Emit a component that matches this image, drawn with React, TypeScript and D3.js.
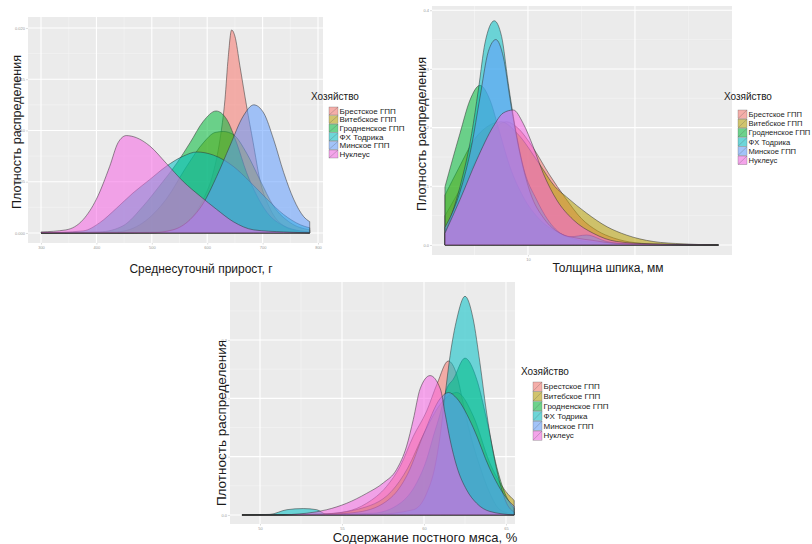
import React, { useEffect, useRef } from 'react';
import * as d3 from 'd3';

type Pt = [number, number];

// хозяйства и цвета (палитра ggplot)
const farms = ['Брестское ГПП', 'Витебское ГПП', 'Гродненское ГПП', 'ФХ Тодрика', 'Минское ГПП', 'Нуклеус'];
const farmColors = ['#F8766D', '#B79F00', '#00BA38', '#00BFC4', '#619CFF', '#F564E3'];

// 1. среднесуточный прирост, г  ->  плотность
const gainBrest: Pt[] = [[300, 0], [450, 0], [496, 0.0001], [538, 0.0003], [569, 0.0013], [593, 0.0033], [611, 0.0059], [623, 0.0091], [632, 0.013], [638, 0.0172], [644, 0.0198], [650, 0.0192], [659, 0.0163], [671, 0.0124], [683, 0.0088], [695, 0.0052], [714, 0.0023], [738, 0.0007], [768, 0.0001], [785, 0]];
const gainVitebsk: Pt[] = [[300, 0], [436, 0.0001], [484, 0.001], [526, 0.0033], [563, 0.0065], [593, 0.0088], [614, 0.0098], [629, 0.0099], [647, 0.0096], [671, 0.0078], [695, 0.0052], [720, 0.0026], [750, 0.001], [785, 0.0003]];
const gainGrodno: Pt[] = [[300, 0], [406, 0.0001], [448, 0.0007], [484, 0.0026], [514, 0.0046], [545, 0.0068], [569, 0.0088], [593, 0.0109], [616, 0.0119], [635, 0.0111], [653, 0.0088], [671, 0.0059], [690, 0.0036], [708, 0.002], [738, 0.0007], [768, 0.0002], [785, 0.0001]];
const gainTodrika: Pt[] = [[300, 0], [376, 0.0002], [406, 0.001], [436, 0.0024], [466, 0.0039], [496, 0.0052], [526, 0.0065], [557, 0.0075], [581, 0.0079], [611, 0.0076], [647, 0.0065], [677, 0.005], [708, 0.0033], [738, 0.0018], [768, 0.0008], [785, 0.0005]];
const gainMinsk: Pt[] = [[300, 0], [496, 0], [538, 0.0003], [569, 0.0013], [593, 0.0029], [617, 0.0055], [641, 0.0085], [665, 0.0114], [684, 0.0125], [702, 0.0117], [720, 0.0091], [738, 0.0059], [756, 0.0033], [774, 0.0016], [785, 0.0011]];
const gainNucleus: Pt[] = [[300, 0.0001], [345, 0.0003], [376, 0.0013], [400, 0.0033], [424, 0.0065], [439, 0.0088], [454, 0.0095], [472, 0.0093], [496, 0.0085], [526, 0.0068], [557, 0.005], [587, 0.0036], [617, 0.0023], [647, 0.0011], [684, 0.0003], [738, 0.0001], [785, 0]];
const gainXTicks = [300, 400, 500, 600, 700, 800];
const gainXLabels = [300, 400, 500, 600, 700, 800];
const gainYTicks = [0, 0.005, 0.01, 0.015, 0.02];

// 2. толщина шпика, мм
const fatBrest: Pt[] = [[2.24, 0.05], [3.5, 0.09], [5, 0.14], [6.5, 0.19], [8, 0.21], [9, 0.2], [10.5, 0.165], [12, 0.12], [13.5, 0.08], [15, 0.045], [16.5, 0.024], [18, 0.012], [20, 0.004], [23, 0.001], [27.8, 0]];
const fatVitebsk: Pt[] = [[2.24, 0.085], [3.5, 0.13], [5, 0.18], [6.5, 0.205], [7.5, 0.21], [9, 0.19], [11, 0.14], [12.5, 0.1], [13.6, 0.082], [15.5, 0.054], [17.4, 0.031], [19.2, 0.017], [21.7, 0.006], [24.5, 0.002], [27.8, 0]];
const fatGrodno: Pt[] = [[2.24, 0.099], [3.64, 0.19], [4.58, 0.247], [5.51, 0.272], [6.45, 0.247], [7.38, 0.19], [8.32, 0.133], [9.56, 0.082], [11.12, 0.043], [12.99, 0.02], [15.48, 0.006], [19.85, 0.002], [27.8, 0]];
const fatTodrika: Pt[] = [[2.24, 0.02], [3.64, 0.099], [4.74, 0.19], [5.36, 0.264], [5.98, 0.344], [6.85, 0.382], [7.54, 0.355], [8.16, 0.275], [8.79, 0.202], [9.56, 0.133], [10.81, 0.077], [12.37, 0.031], [13.93, 0.014], [15.48, 0.017], [17.35, 0.006], [19.85, 0.001], [27.8, 0]];
const fatMinsk: Pt[] = [[2.24, 0.03], [3.64, 0.09], [4.74, 0.17], [5.5, 0.25], [6.3, 0.33], [7, 0.35], [7.7, 0.32], [8.4, 0.24], [9.2, 0.16], [10.2, 0.09], [11.5, 0.045], [13, 0.02], [14.5, 0.012], [16, 0.008], [18, 0.003], [21, 0.001], [27.8, 0]];
const fatNucleus: Pt[] = [[2.24, 0.02], [3.64, 0.077], [5.21, 0.145], [6.76, 0.202], [7.69, 0.225], [8.63, 0.23], [9.56, 0.207], [10.5, 0.167], [11.43, 0.122], [12.68, 0.077], [14.23, 0.043], [16.1, 0.02], [18.29, 0.006], [21.4, 0.002], [27.8, 0]];
const fatXTicks = [10, 20];
const fatXLabels = [10];
const fatYTicks = [0, 0.1, 0.2, 0.3, 0.4];

// 3. содержание постного мяса, %
const leanBrest: Pt[] = [[48.9, 0], [53.46, 0.001], [55.28, 0.006], [56.5, 0.02], [57.72, 0.049], [58.54, 0.083], [59.35, 0.135], [60.16, 0.178], [60.8, 0.225], [61.48, 0.264], [62.0, 0.24], [62.4, 0.19], [62.8, 0.141], [63.41, 0.083], [64.02, 0.037], [64.63, 0.009], [65.5, 0.001]];
const leanVitebsk: Pt[] = [[48.9, 0], [54, 0.002], [56, 0.01], [58, 0.04], [59, 0.08], [60, 0.14], [61, 0.19], [62, 0.21], [63, 0.17], [64, 0.09], [65, 0.04], [65.5, 0.025]];
const leanGrodno: Pt[] = [[48.9, 0], [54, 0.001], [56.9, 0.003], [58.54, 0.02], [59.55, 0.055], [60.16, 0.095], [60.57, 0.135], [61.0, 0.175], [61.38, 0.216], [61.79, 0.233], [62.5, 0.269], [63.21, 0.233], [63.82, 0.164], [64.43, 0.083], [64.94, 0.037], [65.5, 0.011]];
const leanTodrika: Pt[] = [[48.9, 0], [50.6, 0.001], [51.63, 0.009], [52.64, 0.011], [53.46, 0.009], [54.07, 0.001], [57, 0.001], [59.35, 0.009], [60.16, 0.037], [60.67, 0.083], [60.98, 0.135], [61.28, 0.204], [61.59, 0.273], [62.0, 0.336], [62.5, 0.375], [63.0, 0.336], [63.41, 0.261], [63.82, 0.175], [64.23, 0.106], [64.63, 0.055], [65.04, 0.02], [65.5, 0.005]];
const leanMinsk: Pt[] = [[48.9, 0], [54, 0.001], [56, 0.005], [58, 0.03], [59, 0.07], [60, 0.14], [61, 0.2], [61.5, 0.21], [62, 0.2], [63, 0.15], [64, 0.08], [65, 0.03], [65.5, 0.015]];
const leanNucleus: Pt[] = [[48.9, 0], [51, 0], [52.85, 0.003], [54.07, 0.009], [55.28, 0.02], [56.5, 0.037], [57.52, 0.055], [58.33, 0.078], [58.94, 0.118], [59.35, 0.164], [59.76, 0.216], [60.37, 0.239], [61.0, 0.216], [61.28, 0.175], [61.59, 0.129], [62.0, 0.083], [62.6, 0.043], [63.21, 0.02], [64.02, 0.006], [65.5, 0]];
const leanXTicks = [50, 55, 60, 65];
const leanXLabels = [50, 55, 60, 65];
const leanYTicks = [0, 0.1, 0.2, 0.3];

const FONT = "'Liberation Sans', Arial, sans-serif";

// расположение панелей на листе
const panels = [
  {
    series: [gainBrest, gainVitebsk, gainGrodno, gainTodrika, gainMinsk, gainNucleus],
    xTicks: gainXTicks, xLabels: gainXLabels, yTicks: gainYTicks, yFmt: '.3f', xMinorStep: 50, yMinorStep: 0.0025,
    xDomain: [276.5, 809], yDomain: [-0.00098, 0.02107],
    box: { x0: 28, x1: 323, y0: 17, y1: 243 },
    xTitle: 'Среднесуточнй прирост, г', xTitlePos: [201, 273], titleSize: 12,
    yTitlePos: [17, 132],
    legend: { x: 311, y: 100, keyX: 329, rowY: 107, step: 8.6, font: 8 },
  },
  {
    series: [fatBrest, fatVitebsk, fatGrodno, fatTodrika, fatMinsk, fatNucleus],
    xTicks: fatXTicks, xLabels: fatXLabels, yTicks: fatYTicks, yFmt: '.1f', xMinorStep: 5, yMinorStep: 0.05,
    xDomain: [1.03, 29.07], yDomain: [-0.017, 0.4072],
    box: { x0: 432, x1: 732, y0: 6, y1: 255 },
    xTitle: 'Толщина шпика, мм', xTitlePos: [608, 272], titleSize: 12,
    yTitlePos: [422, 134],
    legend: { x: 724, y: 100, keyX: 738, rowY: 110, step: 9.2, font: 7.6 },
  },
  {
    series: [leanBrest, leanVitebsk, leanGrodno, leanTodrika, leanMinsk, leanNucleus],
    xTicks: leanXTicks, xLabels: leanXLabels, yTicks: leanYTicks, yFmt: '.1f', xMinorStep: 2.5, yMinorStep: 0.05,
    xDomain: [48.17, 65.55], yDomain: [-0.0155, 0.3995],
    box: { x0: 230, x1: 515, y0: 282, y1: 524 },
    xTitle: 'Содержание постного мяса, %', xTitlePos: [425, 542], titleSize: 13,
    yTitlePos: [221, 423],
    legend: { x: 521, y: 375, keyX: 533, rowY: 382, step: 9.8, font: 8 },
  },
];

const App = () => {
  const svgRef = useRef<SVGSVGElement>(null);

  useEffect(() => {
    document.body.style.margin = '0';
    const svg = d3.select(svgRef.current);
    svg.selectAll('*').remove();

    panels.forEach((p) => {
      const { box } = p;
      const x = d3.scaleLinear().domain(p.xDomain).range([box.x0, box.x1]);
      const y = d3.scaleLinear().domain(p.yDomain).range([box.y1, box.y0]);
      const g = svg.append('g');

      // фон панели
      g.append('rect')
        .attr('x', box.x0).attr('y', box.y0)
        .attr('width', box.x1 - box.x0).attr('height', box.y1 - box.y0)
        .attr('fill', '#EBEBEB');

      // сетка
      const xMinor = d3.range(p.xDomain[0] - p.xMinorStep, p.xDomain[1], p.xMinorStep)
        .map((v) => Math.round(v / p.xMinorStep) * p.xMinorStep)
        .filter((v) => v > p.xDomain[0] && v < p.xDomain[1] && !p.xTicks.some((t) => Math.abs(t - v) < 1e-9));
      const yMinor = d3.range(0, p.yDomain[1], p.yMinorStep)
        .filter((v) => v > p.yDomain[0] && v < p.yDomain[1] && !p.yTicks.some((t) => Math.abs(t - v) < 1e-9));

      g.selectAll('.xminor').data(xMinor).join('line')
        .attr('x1', (d) => x(d)).attr('x2', (d) => x(d))
        .attr('y1', box.y0).attr('y2', box.y1)
        .attr('stroke', '#F5F5F5').attr('stroke-width', 0.6);
      g.selectAll('.yminor').data(yMinor).join('line')
        .attr('y1', (d) => y(d)).attr('y2', (d) => y(d))
        .attr('x1', box.x0).attr('x2', box.x1)
        .attr('stroke', '#F5F5F5').attr('stroke-width', 0.6);
      g.selectAll('.xmajor').data(p.xTicks).join('line')
        .attr('x1', (d) => x(d)).attr('x2', (d) => x(d))
        .attr('y1', box.y0).attr('y2', box.y1)
        .attr('stroke', '#FFFFFF').attr('stroke-width', 1.1);
      g.selectAll('.ymajor').data(p.yTicks).join('line')
        .attr('y1', (d) => y(d)).attr('y2', (d) => y(d))
        .attr('x1', box.x0).attr('x2', box.x1)
        .attr('stroke', '#FFFFFF').attr('stroke-width', 1.1);

      // кривые плотности
      const area = d3.area<Pt>()
        .x((d) => x(d[0]))
        .y0(y(0))
        .y1((d) => y(d[1]))
        .curve(d3.curveMonotoneX);

      p.series.forEach((s, i) => {
        g.append('path')
          .datum(s)
          .attr('d', area)
          .attr('fill', farmColors[i])
          .attr('fill-opacity', 0.55)
          .attr('stroke', '#333')
          .attr('stroke-width', 0.7)
          .attr('stroke-opacity', 0.75);
      });

      // оси
      const xAxis = g.append('g')
        .attr('transform', `translate(0, ${box.y1})`)
        .call(d3.axisBottom(x).tickValues(p.xLabels).tickSize(1.5).tickPadding(1.5).tickFormat(d3.format('d')));
      const yAxis = g.append('g')
        .attr('transform', `translate(${box.x0}, 0)`)
        .call(d3.axisLeft(y).tickValues(p.yTicks).tickSize(2).tickPadding(1).tickFormat(d3.format(p.yFmt)));
      [xAxis, yAxis].forEach((ax) => {
        ax.select('.domain').remove();
        ax.selectAll('.tick line').attr('stroke', '#bbb').attr('stroke-width', 0.5);
        ax.selectAll('text')
          .style('font-size', '4px')
          .style('fill', '#999')
          .style('font-family', FONT);
      });

      // подписи осей
      g.append('text')
        .attr('x', p.xTitlePos[0]).attr('y', p.xTitlePos[1])
        .attr('text-anchor', 'middle')
        .style('font-size', `${p.titleSize}px`)
        .style('fill', '#1a1a1a')
        .style('font-family', FONT)
        .text(p.xTitle);
      g.append('text')
        .attr('transform', `translate(${p.yTitlePos[0]}, ${p.yTitlePos[1]}) rotate(-90)`)
        .attr('text-anchor', 'middle')
        .attr('dy', '0.35em')
        .style('font-size', `${p.titleSize + 0.5}px`)
        .style('fill', '#1a1a1a')
        .style('font-family', FONT)
        .text('Плотность распределения');

      // легенда
      const lg = p.legend;
      g.append('text')
        .attr('x', lg.x).attr('y', lg.y)
        .style('font-size', '10px')
        .style('fill', '#1a1a1a')
        .style('font-family', FONT)
        .text('Хозяйство');

      const items = g.selectAll('.legend-item')
        .data(farms)
        .join('g')
        .attr('transform', (d, i) => `translate(${lg.keyX}, ${lg.rowY + i * lg.step})`);
      items.append('rect')
        .attr('width', 9).attr('height', lg.step - 0.6)
        .attr('fill', '#F2F2F2');
      items.append('rect')
        .attr('width', 9).attr('height', lg.step - 0.6)
        .attr('fill', (d, i) => farmColors[i])
        .attr('fill-opacity', 0.55)
        .attr('stroke', '#555')
        .attr('stroke-width', 0.4)
        .attr('stroke-opacity', 0.7);
      items.append('line')
        .attr('x1', 0).attr('y1', lg.step - 0.6)
        .attr('x2', 9).attr('y2', 0)
        .attr('stroke', '#555').attr('stroke-width', 0.4).attr('stroke-opacity', 0.7);
      items.append('text')
        .attr('x', 10.5).attr('y', (lg.step - 0.6) / 2)
        .attr('dy', '0.35em')
        .style('font-size', `${lg.font}px`)
        .style('fill', '#1a1a1a')
        .style('font-family', FONT)
        .text((d) => d);
    });
  }, []);

  return (
    <svg ref={svgRef} width={812} height={544} style={{ display: 'block', background: '#fff' }} />
  );
};

export default App;
